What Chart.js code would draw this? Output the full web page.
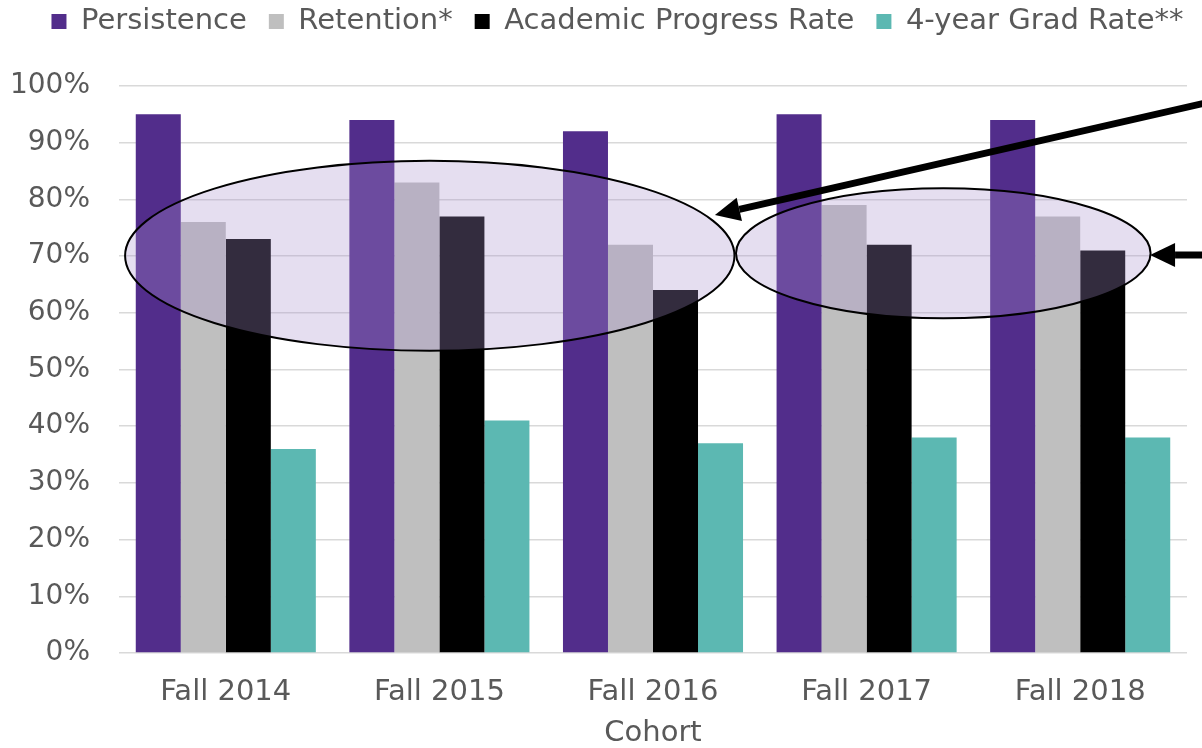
<!DOCTYPE html>
<html>
<head>
<meta charset="utf-8">
<style>
  html, body { margin: 0; padding: 0; background: #ffffff; }
  #wrap { width: 1202px; height: 748px; position: relative; }
</style>
<script src="https://cdn.jsdelivr.net/npm/chart.js@4.4.1/dist/chart.umd.min.js"></script>
</head>
<body>
<div id="wrap"><canvas id="c" width="1202" height="748"></canvas></div>
<script>
// ---- Data ----
const categories = ['Fall 2014', 'Fall 2015', 'Fall 2016', 'Fall 2017', 'Fall 2018'];
const persistence = [95, 94, 92, 95, 94];
const retention = [76, 83, 72, 79, 77];
const academicProgress = [73, 77, 64, 72, 71];
const gradRate4yr = [36, 41, 37, 38, 38];
const seriesNames = ['Persistence', 'Retention*', 'Academic Progress Rate', '4-year Grad Rate**'];
const yTicks = [0, 10, 20, 30, 40, 50, 60, 70, 80, 90, 100];
const axisTitle = 'Cohort';

// ---- Annotations (in category-index / value units) ----
const ellipses = [
  { cx: 0.955, cy: 70.05, rx: 1.4265, ry: 16.75 },
  { cx: 3.359, cy: 70.5, rx: 0.9705, ry: 11.46 }
];
const arrows = [
  { fromX: 4.62, fromY: 97.3, toX: 2.29, toY: 77.25 },
  { fromX: 4.62, fromY: 70.2, toX: 4.327, toY: 70.2 }
];

const TEXT = '#595959';
const FONT = 'DejaVu Sans';

const annotationPlugin = {
  id: 'annot',
  afterDatasetsDraw(chart) {
    const ctx = chart.ctx;
    const xs = chart.scales.x, ys = chart.scales.y;
    ctx.save();
    ellipses.forEach(e => {
      const cx = xs.getPixelForValue(e.cx);
      const cy = ys.getPixelForValue(e.cy);
      const rx = Math.abs(xs.getPixelForValue(e.cx + e.rx) - cx);
      const ry = Math.abs(ys.getPixelForValue(e.cy + e.ry) - cy);
      ctx.beginPath();
      ctx.ellipse(cx, cy, rx, ry, 0, 0, Math.PI * 2);
      ctx.fillStyle = 'rgba(170,147,206,0.30)';
      ctx.fill();
      ctx.lineWidth = 2;
      ctx.strokeStyle = '#000000';
      ctx.stroke();
    });
    arrows.forEach(a => {
      const x1 = xs.getPixelForValue(a.fromX), y1 = ys.getPixelForValue(a.fromY);
      const x2 = xs.getPixelForValue(a.toX), y2 = ys.getPixelForValue(a.toY);
      const ang = Math.atan2(y2 - y1, x2 - x1);
      const headLen = 25, headHalf = 12;
      const bx = x2 - headLen * Math.cos(ang), by = y2 - headLen * Math.sin(ang);
      ctx.beginPath();
      ctx.moveTo(x1, y1);
      ctx.lineTo(bx, by);
      ctx.lineWidth = 7;
      ctx.strokeStyle = '#000000';
      ctx.stroke();
      ctx.beginPath();
      ctx.moveTo(x2, y2);
      ctx.lineTo(bx + headHalf * Math.sin(ang), by - headHalf * Math.cos(ang));
      ctx.lineTo(bx - headHalf * Math.sin(ang), by + headHalf * Math.cos(ang));
      ctx.closePath();
      ctx.fillStyle = '#000000';
      ctx.fill();
    });
    ctx.restore();
  }
};

const legendShift = {
  id: 'legendShift',
  afterLayout(chart) {
    const lg = chart.legend;
    if (!lg) return;
    const dx = 19;
    lg.left += dx; lg.right += dx;
    const h = lg.bottom - lg.top;
    lg.top = -15; lg.bottom = lg.top + h;
  }
};

new Chart(document.getElementById('c'), {
  type: 'bar',
  data: {
    labels: categories,
    datasets: [
      { label: seriesNames[0], data: persistence, backgroundColor: '#522D8B' },
      { label: seriesNames[1], data: retention, backgroundColor: '#BFBFBF' },
      { label: seriesNames[2], data: academicProgress, backgroundColor: '#000000' },
      { label: seriesNames[3], data: gradRate4yr, backgroundColor: '#5CB8B2' }
    ]
  },
  options: {
    responsive: false,
    animation: false,
    devicePixelRatio: 1,
    datasets: { bar: { barPercentage: 1.0, categoryPercentage: 0.843, borderWidth: 0 } },
    layout: { padding: { left: 10, right: 15, top: 25, bottom: 0 } },
    plugins: {
      legend: {
        position: 'top',
        align: 'center',
        labels: {
          boxWidth: 15,
          boxHeight: 15,
          padding: 22,
          color: TEXT,
          font: { family: FONT, size: 29 }
        }
      },
      tooltip: { enabled: false },
      title: { display: false }
    },
    scales: {
      x: {
        afterFit(scale) { scale.height = 95; },
        grid: { display: false, drawTicks: false },
        border: { display: false },
        ticks: { color: TEXT, font: { family: FONT, size: 29 }, padding: 22, maxRotation: 0 },
        title: { display: true, text: axisTitle, color: TEXT, font: { family: FONT, size: 29, lineHeight: 1.0 }, padding: { top: 9, bottom: 0 } }
      },
      y: {
        min: 0, max: 100,
        afterFit(scale) { scale.width = 109; },
        afterBuildTicks(scale) { scale.ticks = yTicks.map(v => ({ value: v })); },
        grid: { color: '#D9D9D9', lineWidth: 1.5, drawTicks: false },
        border: { display: false },
        ticks: { color: TEXT, font: { family: FONT, size: 28 }, padding: 29, callback: v => v + '%' }
      }
    }
  },
  plugins: [annotationPlugin, legendShift]
});
</script>
</body>
</html>
